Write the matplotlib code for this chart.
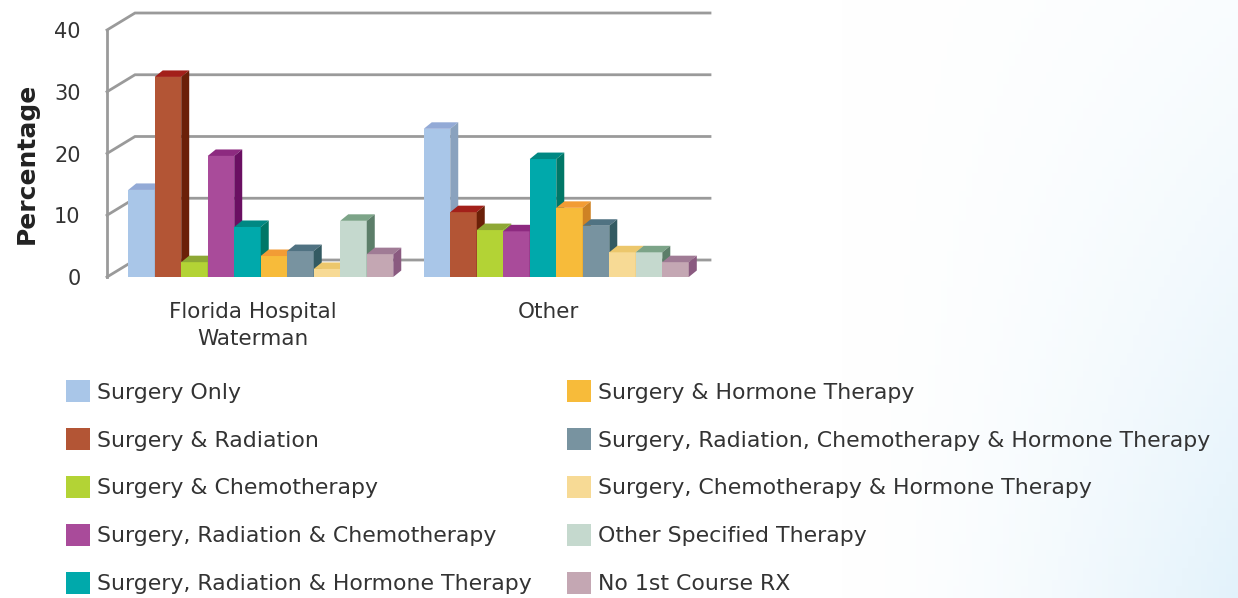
import matplotlib.pyplot as plt
from matplotlib.patches import Polygon, Patch
import numpy as np

plt.rcParams['font.family'] = ['DejaVu Sans']

# Data
groups = ['Florida Hospital\nWaterman', 'Other']
treatments = ['Surgery Only', 'Surgery & Radiation', 'Surgery & Chemotherapy',
              'Surgery, Radiation & Chemotherapy', 'Surgery, Radiation & Hormone Therapy',
              'Surgery & Hormone Therapy', 'Surgery, Radiation, Chemotherapy & Hormone Therapy',
              'Surgery, Chemotherapy & Hormone Therapy', 'Other Specified Therapy',
              'No 1st Course RX']
florida_vals = [14.1, 32.4, 2.4, 19.6, 8.1, 3.4, 4.2, 1.3, 9.1, 3.7]
other_vals = [24.0, 10.5, 7.6, 7.4, 19.1, 11.2, 8.3, 4.0, 4.0, 2.4]
yticks = [0, 10, 20, 30, 40]

# front / top / side shades for the fake 3d look
front_colors = ['#A9C6E8', '#B35535', '#B3D335', '#A94B9A', '#00A9AB',
                '#F7BB3A', '#7893A0', '#F7DA95', '#C5D9CE', '#C4A7B3']
top_colors = ['#93AAD6', '#A3201A', '#8EA835', '#8D2A80', '#008883',
              '#F29C35', '#507282', '#ECC76C', '#7CA488', '#A07B95']
side_colors = ['#8AA2BE', '#6B2008', '#7A9A2A', '#6A0F62', '#007767',
               '#CE8224', '#335A62', '#D9B66A', '#5C7E69', '#8A5A80']

W, H = 1238, 598
fig = plt.figure(figsize=(W / 100, H / 100), dpi=100)

# soft blue background wash towards the lower right
bg = fig.add_axes([0, 0, 1, 1], zorder=-10)
gx, gy = np.meshgrid(np.linspace(0, 1, 200), np.linspace(0, 1, 100))
t = np.clip((gx - 0.68) / 0.32, 0, 1) * (0.35 + 0.65 * gy)
t = np.clip(t, 0, 1) ** 1.5
img = np.ones((100, 200, 3))
img[..., 0] -= t * 0.11
img[..., 1] -= t * 0.05
img[..., 2] -= t * 0.015
bg.imshow(img, aspect='auto', extent=[0, 1, 0, 1], origin='upper')
bg.axis('off')

# main axes = front plane of the 3d box
x_left, x_right = 107, 710
y_bot, y_top = 277, 30
ax = fig.add_axes([x_left / W, (H - y_bot) / H, (x_right - x_left) / W, (y_bot - y_top) / H])
ax.set_facecolor('none')
xmin, xmax = -1.3, 21.45
ax.set_xlim(xmin, xmax)
ax.set_ylim(0, 40)

px_x = (x_right - x_left) / (xmax - xmin)
px_y = (y_bot - y_top) / 40.0

# back wall offset and bar depth (pixels -> data)
wall_dx, wall_dy = 28 / px_x, 17 / px_y
bar_dx, bar_dy = 8 / px_x, 6.5 / px_y

grid_color = '#9a9a9a'
ax.plot([xmin, xmin], [0, 40], color=grid_color, lw=2, zorder=1, clip_on=False)
for v in yticks:
    ax.plot([xmin, xmin + wall_dx, xmax], [v, v + wall_dy, v + wall_dy],
            color=grid_color, lw=2, zorder=1, clip_on=False, solid_joinstyle='miter')

group_gap = 11.15
n = len(treatments)
z = 2
for g, vals in enumerate([florida_vals, other_vals]):
    xs = g * group_gap + np.arange(n)
    for i in range(n):
        x0 = xs[i] - 0.5
        x1 = xs[i] + 0.5
        h = vals[i]
        ax.bar(xs[i], h, width=1.0, color=front_colors[i], zorder=z, clip_on=False)
        top = Polygon([(x0, h), (x0 + bar_dx, h + bar_dy), (x1 + bar_dx, h + bar_dy), (x1, h)],
                      closed=True, facecolor=top_colors[i], edgecolor='none', zorder=z, clip_on=False)
        side = Polygon([(x1, 0), (x1 + bar_dx, bar_dy), (x1 + bar_dx, h + bar_dy), (x1, h)],
                       closed=True, facecolor=side_colors[i], edgecolor='none', zorder=z, clip_on=False)
        ax.add_patch(top)
        ax.add_patch(side)
        z += 1

for s in ax.spines.values():
    s.set_visible(False)
ax.set_yticks(yticks)
ax.set_yticklabels([str(v) for v in yticks], fontsize=15, color='#333333')
ax.tick_params(axis='y', length=0, pad=19)
ax.set_xticks([g * group_gap + (n - 1) / 2 - 0.3 for g in range(len(groups))])
ax.set_xticklabels(groups, fontsize=15.5, color='#333333', linespacing=1.45)
ax.tick_params(axis='x', length=0, pad=18)
ax.set_ylabel('Percentage', fontsize=18, fontweight='bold', color='#222222')
ax.yaxis.set_label_coords(-0.114, 0.46)

# legend in two columns
handles = [Patch(facecolor=c, edgecolor='none') for c in front_colors]
leg_kw = dict(frameon=False, fontsize=15.8, handlelength=1.1, handleheight=1.2,
              handletextpad=0.3, labelspacing=1.15, borderpad=0, borderaxespad=0,
              loc='upper left', labelcolor='#333333')
leg1 = fig.legend(handles[:5], treatments[:5], bbox_to_anchor=(66 / W, 1 - 380 / H), **leg_kw)
leg2 = fig.legend(handles[5:], treatments[5:], bbox_to_anchor=(567 / W, 1 - 380 / H), **leg_kw)

fig.savefig('out.png', dpi=100)
